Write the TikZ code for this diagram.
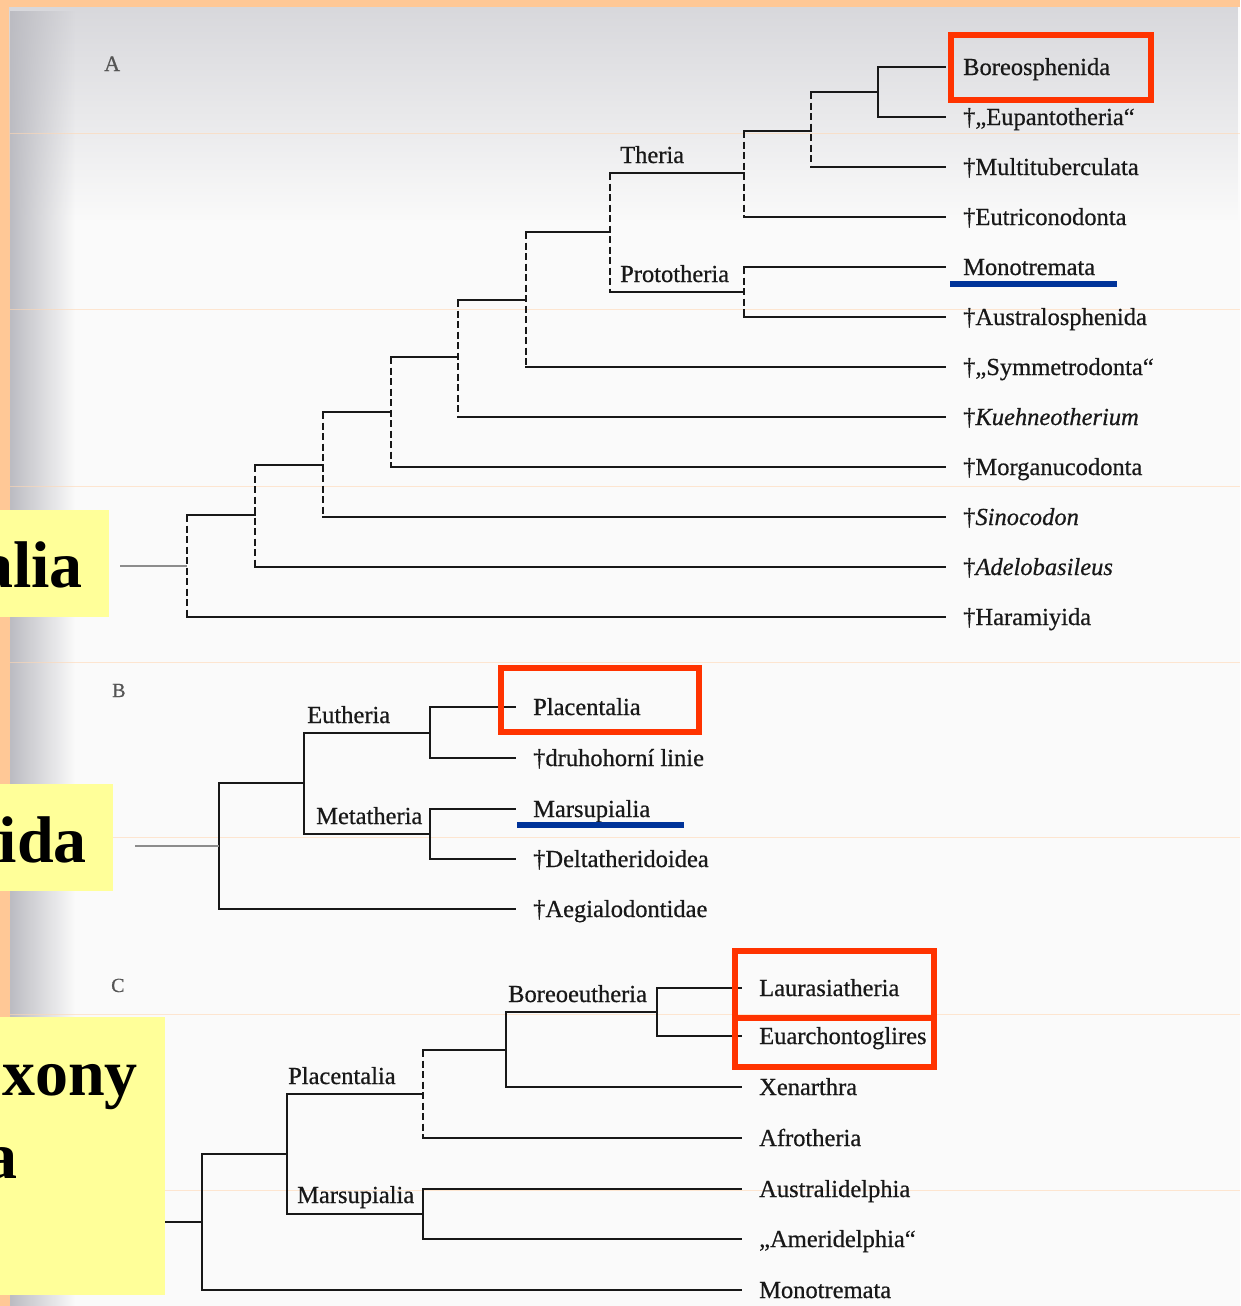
\documentclass[tikz,border=0pt]{standalone}
\usepackage{fontspec}
\setmainfont{Liberation Serif}[FakeBold=0.6]
\newfontfamily\boxfont{Liberation Serif}
\usetikzlibrary{fadings}
\definecolor{peach}{RGB}{255,200,150}
\definecolor{paper}{RGB}{250,250,250}
\definecolor{scangray}{RGB}{188,188,194}
\definecolor{topgray}{RGB}{216,216,220}
\definecolor{ink}{RGB}{24,24,24}
\definecolor{rootgray}{RGB}{140,140,140}
\definecolor{panelgray}{RGB}{85,85,85}
\definecolor{redc}{RGB}{255,51,0}
\definecolor{bluec}{RGB}{0,51,153}
\definecolor{yel}{RGB}{255,255,153}
\definecolor{faintline}{RGB}{255,215,180}
\tikzfading[name=fadeR, left color=transparent!0, right color=transparent!100]
\tikzfading[name=fadeD, top color=transparent!0, bottom color=transparent!100]
\begin{document}
\begin{tikzpicture}[x=1pt,y=-1pt,
  br/.style={draw=ink, line width=2.6pt, line cap=rect},
  dbr/.style={draw=ink, line width=2.6pt, line cap=butt, dash pattern=on 7pt off 3.5pt},
  rootbr/.style={draw=rootgray, line width=2.6pt},
  tiplab/.style={anchor=base west, inner sep=0pt, text=ink, font=\fontsize{24.5}{28}\selectfont},
  cladelab/.style={anchor=base west, inner sep=0pt, text=ink, font=\fontsize{24.5}{28}\selectfont},
  panellab/.style={anchor=base west, inner sep=0pt, text=panelgray, font=\fontsize{20}{24}\selectfont},
  redframe/.style={draw=redc, line width=5.5pt},
  blueul/.style={draw=bluec, line width=6pt},
  yelbox/.style={fill=yel},
  bigword/.style={anchor=base east, inner sep=0pt, text=black, font=\boxfont\fontsize{66}{70}\selectfont\bfseries}
]
\useasboundingbox (0,0) rectangle (1240,1306);
% ---------- background ----------
\fill[peach] (0,0) rectangle (1240,1306);
\fill[paper] (10,7) rectangle (1240,1306);
\fill[topgray, path fading=fadeD] (10,7) rectangle (1240,220);
\fill[scangray, path fading=fadeR] (10,7) rectangle (75,1306);
\foreach \yy in {133,309,486,662,837,1014,1190}
  \draw[faintline, line width=1pt, opacity=0.6] (10,\yy) -- (1240,\yy);

% ---------- panel labels ----------
\node[panellab, font=\fontsize{22}{26}\selectfont] (pA) at (104,71) {A};
\node[panellab] (pB) at (112,697) {B};
\node[panellab] (pC) at (111,992) {C};

% ================= Tree A =================
\coordinate (a1) at (945,67);
\coordinate (a2) at (945,117);
\coordinate (a3) at (945,167);
\coordinate (a4) at (945,217);
\coordinate (a5) at (945,267);
\coordinate (a6) at (945,317);
\coordinate (a7) at (945,367);
\coordinate (a8) at (945,417);
\coordinate (a9) at (945,467);
\coordinate (a10) at (945,517);
\coordinate (a11) at (945,567);
\coordinate (a12) at (945,617);
\coordinate (nBE) at (878,92);
\coordinate (nBEM) at (811,131);
\coordinate (nTh) at (744,173);
\coordinate (nPr) at (744,292);
\coordinate (nTP) at (610,232);
\coordinate (n526) at (526,300);
\coordinate (n458) at (458,357);
\coordinate (n391) at (391,412);
\coordinate (n323) at (323,465);
\coordinate (n255) at (255,515);
\coordinate (n187) at (187,566);
\coordinate (rA) at (120,566);

\draw[br] (a1 -| nBE) -- (a2 -| nBE);
\draw[br] (a1 -| nBE) -- (a1);
\draw[br] (a2 -| nBE) -- (a2);

\draw[dbr] (nBE -| nBEM) -- (a3 -| nBEM);
\draw[br] (nBE -| nBEM) -- (nBE);
\draw[br] (a3 -| nBEM) -- (a3);

\draw[dbr] (nBEM -| nTh) -- (a4 -| nTh);
\draw[br] (nBEM -| nTh) -- (nBEM);
\draw[br] (a4 -| nTh) -- (a4);

\draw[dbr] (a5 -| nPr) -- (a6 -| nPr);
\draw[br] (a5 -| nPr) -- (a5);
\draw[br] (a6 -| nPr) -- (a6);

\draw[dbr] (nTh -| nTP) -- (nPr -| nTP);
\draw[br] (nTh -| nTP) -- (nTh);
\draw[br] (nPr -| nTP) -- (nPr);

\draw[dbr] (nTP -| n526) -- (a7 -| n526);
\draw[br] (nTP -| n526) -- (nTP);
\draw[br] (a7 -| n526) -- (a7);

\draw[dbr] (n526 -| n458) -- (a8 -| n458);
\draw[br] (n526 -| n458) -- (n526);
\draw[br] (a8 -| n458) -- (a8);

\draw[dbr] (n458 -| n391) -- (a9 -| n391);
\draw[br] (n458 -| n391) -- (n458);
\draw[br] (a9 -| n391) -- (a9);

\draw[dbr] (n391 -| n323) -- (a10 -| n323);
\draw[br] (n391 -| n323) -- (n391);
\draw[br] (a10 -| n323) -- (a10);

\draw[dbr] (n323 -| n255) -- (a11 -| n255);
\draw[br] (n323 -| n255) -- (n323);
\draw[br] (a11 -| n255) -- (a11);

\draw[dbr] (n255 -| n187) -- (a12 -| n187);
\draw[br] (n255 -| n187) -- (n255);
\draw[br] (a12 -| n187) -- (a12);

\draw[rootbr] (rA) -- (n187);

\node[cladelab] (lTh) at (620,163) {Theria};
\node[cladelab] (lPr) at (620,282) {Prototheria};

\node[tiplab] (tA1) at (963,75) {Boreosphenida};
\node[tiplab] (tA2) at (963,125) {†„Eupantotheria“};
\node[tiplab] (tA3) at (963,175) {†Multituberculata};
\node[tiplab] (tA4) at (963,225) {†Eutriconodonta};
\node[tiplab] (tA5) at (963,275) {Monotremata};
\node[tiplab] (tA6) at (963,325) {†Australosphenida};
\node[tiplab] (tA7) at (963,375) {†„Symmetrodonta“};
\node[tiplab] (tA8) at (963,425) {†\textit{Kuehneotherium}};
\node[tiplab] (tA9) at (963,475) {†Morganucodonta};
\node[tiplab] (tA10) at (963,525) {†\textit{Sinocodon}};
\node[tiplab] (tA11) at (963,575) {†\textit{Adelobasileus}};
\node[tiplab] (tA12) at (963,625) {†Haramiyida};

\draw[redframe] (951,35) rectangle (1151,100);
\draw[blueul] (950,284) -- (1117,284);

% ================= Tree B =================
\coordinate (b1) at (515,707);
\coordinate (b2) at (515,758);
\coordinate (b3) at (515,809);
\coordinate (b4) at (515,859);
\coordinate (b5) at (515,909);
\coordinate (nEu) at (430,733);
\coordinate (nMe) at (430,834);
\coordinate (nEM) at (304,783);
\coordinate (nB) at (219,846);
\coordinate (rB) at (135,846);

\draw[br] (b1 -| nEu) -- (b2 -| nEu);
\draw[br] (b1 -| nEu) -- (b1);
\draw[br] (b2 -| nEu) -- (b2);

\draw[br] (b3 -| nMe) -- (b4 -| nMe);
\draw[br] (b3 -| nMe) -- (b3);
\draw[br] (b4 -| nMe) -- (b4);

\draw[br] (nEu -| nEM) -- (nMe -| nEM);
\draw[br] (nEu -| nEM) -- (nEu);
\draw[br] (nMe -| nEM) -- (nMe);

\draw[br] (nEM -| nB) -- (b5 -| nB);
\draw[br] (nEM -| nB) -- (nEM);
\draw[br] (b5 -| nB) -- (b5);

\draw[rootbr] (rB) -- (nB);

\node[cladelab] (lEu) at (307,723) {Eutheria};
\node[cladelab] (lMe) at (316,824) {Metatheria};

\node[tiplab] (tB1) at (533,715) {Placentalia};
\node[tiplab] (tB2) at (533,766) {†druhohorní linie};
\node[tiplab] (tB3) at (533,817) {Marsupialia};
\node[tiplab] (tB4) at (533,867) {†Deltatheridoidea};
\node[tiplab] (tB5) at (533,917) {†Aegialodontidae};

\draw[redframe] (501,668) rectangle (699,732);
\draw[blueul] (517,825) -- (684,825);

% ================= Tree C =================
\coordinate (c1) at (741,988);
\coordinate (c2) at (741,1036);
\coordinate (c3) at (741,1087);
\coordinate (c4) at (741,1138);
\coordinate (c5) at (741,1189);
\coordinate (c6) at (741,1239);
\coordinate (c7) at (741,1290);
\coordinate (nBo) at (657,1012);
\coordinate (nBX) at (506,1050);
\coordinate (nPl) at (423,1094);
\coordinate (nMa) at (423,1214);
\coordinate (nPM) at (287,1154);
\coordinate (nC) at (202,1222);
\coordinate (rC) at (160,1222);

\draw[br] (c1 -| nBo) -- (c2 -| nBo);
\draw[br] (c1 -| nBo) -- (c1);
\draw[br] (c2 -| nBo) -- (c2);

\draw[br] (nBo -| nBX) -- (c3 -| nBX);
\draw[br] (nBo -| nBX) -- (nBo);
\draw[br] (c3 -| nBX) -- (c3);

\draw[dbr] (nBX -| nPl) -- (c4 -| nPl);
\draw[br] (nBX -| nPl) -- (nBX);
\draw[br] (c4 -| nPl) -- (c4);

\draw[br] (c5 -| nMa) -- (c6 -| nMa);
\draw[br] (c5 -| nMa) -- (c5);
\draw[br] (c6 -| nMa) -- (c6);

\draw[br] (nPl -| nPM) -- (nMa -| nPM);
\draw[br] (nPl -| nPM) -- (nPl);
\draw[br] (nMa -| nPM) -- (nMa);

\draw[br] (nPM -| nC) -- (c7 -| nC);
\draw[br] (nPM -| nC) -- (nPM);
\draw[br] (c7 -| nC) -- (c7);

\draw[br] (rC) -- (nC);

\node[cladelab] (lBo) at (508,1002) {Boreoeutheria};
\node[cladelab] (lPl) at (288,1084) {Placentalia};
\node[cladelab] (lMa) at (297,1203) {Marsupialia};

\node[tiplab] (tC1) at (759,996) {Laurasiatheria};
\node[tiplab] (tC2) at (759,1044) {Euarchontoglires};
\node[tiplab] (tC3) at (759,1095) {Xenarthra};
\node[tiplab] (tC4) at (759,1146) {Afrotheria};
\node[tiplab] (tC5) at (759,1197) {Australidelphia};
\node[tiplab] (tC6) at (759,1247) {„Ameridelphia“};
\node[tiplab] (tC7) at (759,1298) {Monotremata};

\draw[redframe] (735,951) rectangle (934,1067);
\draw[redframe] (735,1018) -- (934,1018);

% ================= yellow boxes =================
\fill[yelbox] (0,510) rectangle (109,617);
\node[bigword] (y1) at (83,587) {alia};
\fill[yelbox] (0,784) rectangle (113,891);
\node[bigword] (y2) at (87,862) {ida};
\fill[yelbox] (0,1017) rectangle (165,1295);
\node[bigword] (y3) at (138,1095) {xony};
\node[bigword] (y4) at (18,1178) {a};
\end{tikzpicture}
\end{document}
